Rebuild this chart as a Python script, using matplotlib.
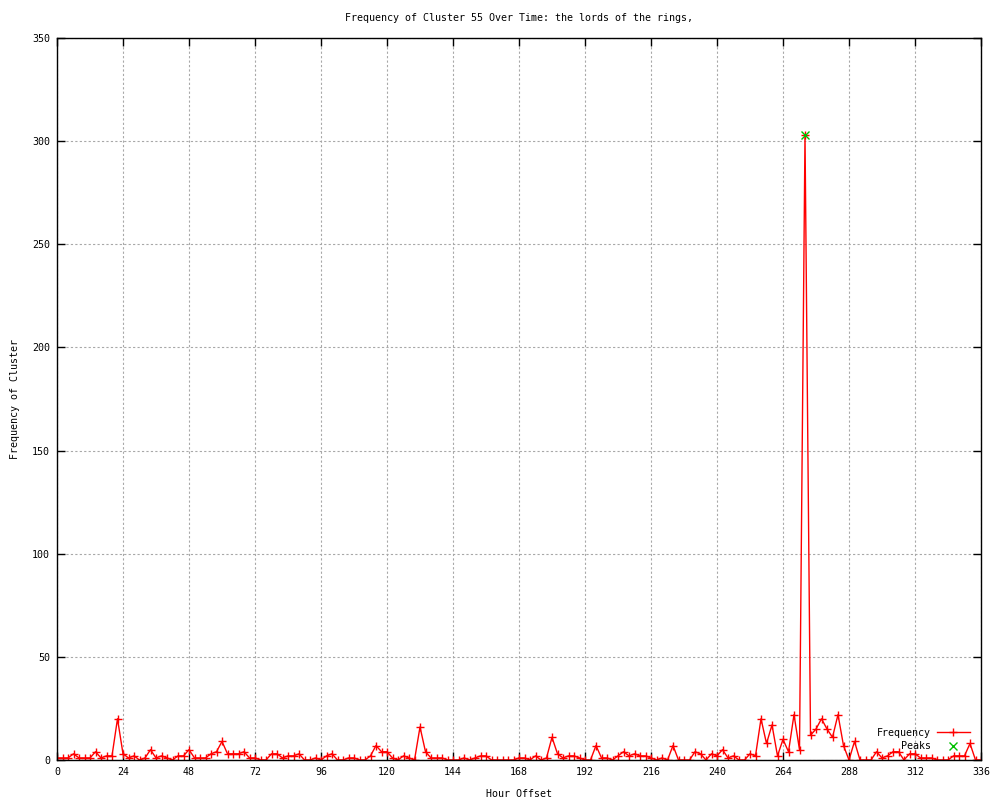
import numpy as np
import matplotlib
matplotlib.use("Agg")
import matplotlib.pyplot as plt

plt.rcParams['font.family'] = ['DejaVu Sans Mono']
FS = 7.2

# hourly offsets (every 2 hours) and cluster frequency
hours = np.arange(0, 337, 2)
freq = [1, 1, 1, 3, 1, 1, 1, 4, 1, 2,
        2, 20, 3, 1, 2, 0, 1, 5, 1, 2,
        1, 0, 2, 2, 5, 1, 1, 1, 3, 4,
        9, 3, 3, 3, 4, 1, 1, 0, 0, 3,
        3, 1, 2, 2, 3, 0, 0, 1, 0, 2,
        3, 0, 0, 1, 1, 0, 0, 2, 7, 4,
        4, 1, 0, 2, 1, 0, 16, 4, 1, 1,
        1, 0, 0, 0, 1, 0, 1, 2, 2, 0,
        0, 0, 0, 0, 1, 1, 0, 2, 0, 1,
        11, 3, 1, 2, 2, 1, 0, 0, 7, 1,
        1, 0, 2, 4, 2, 3, 2, 2, 1, 0,
        1, 0, 7, 0, 0, 0, 4, 3, 0, 3,
        2, 5, 1, 2, 0, 0, 3, 2, 20, 8,
        17, 2, 10, 4, 22, 5, 303, 12, 15, 20,
        15, 11, 22, 7, 0, 9, 0, 0, 0, 4,
        1, 2, 4, 4, 0, 3, 3, 1, 1, 1,
        0, 0, 0, 2, 2, 2, 8, 0, 0]
peak_hours = [272]
peak_vals = [303]

xticks = list(range(0, 337, 24))
yticks = list(range(0, 351, 50))

fig = plt.figure(figsize=(10, 8), dpi=100)
ax = fig.add_axes([0.057, 0.05, 0.924, 0.9025])

ax.plot(hours, freq, color='#ff0000', lw=1, marker='+', ms=6, mew=1,
        label='Frequency')
ax.plot(peak_hours, peak_vals, color='#00c000', lw=0, marker='x', ms=6,
        mew=1, label='Peaks')

ax.set_xlim(0, 336)
ax.set_ylim(0, 350)
ax.set_xticks(xticks)
ax.set_yticks(yticks)
ax.tick_params(direction='in', length=6, width=1, top=True, right=True,
               labelsize=FS, colors='black', pad=5)
ax.grid(True, color='#a8a8a8', linestyle=(0, (2, 2)), lw=0.8)
for s in ax.spines.values():
    s.set_linewidth(1)

ax.set_title('Frequency of Cluster 55 Over Time: the lords of the rings,',
             fontsize=FS, pad=12)
ax.set_xlabel('Hour Offset', fontsize=FS, labelpad=9)
ax.set_ylabel('Frequency of Cluster', fontsize=FS, labelpad=9)

ax.legend(loc='lower right', bbox_to_anchor=(0.993, 0.005), frameon=False,
          markerfirst=False, fontsize=FS, handlelength=3.3,
          labelspacing=0.35, borderpad=0, handletextpad=0.6)

fig.savefig('out.png', dpi=100)
